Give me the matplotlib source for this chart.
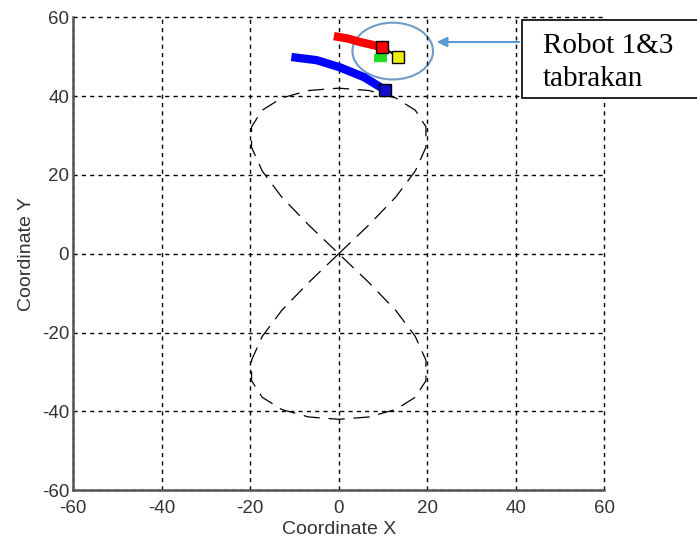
import numpy as np
import matplotlib.pyplot as plt
from matplotlib.patches import Ellipse

plt.rcParams['font.family'] = ['Liberation Sans', 'DejaVu Sans']
plt.rcParams['axes.unicode_minus'] = False

# Lintasan angka 8
path_x = [0, 6.8, 12.9, 17.3, 19.7, 19.7, 17.3, 12.9, 6.8, 0, -6.8, -12.9, -17.3, -19.7,
          -19.7, -17.3, -12.9, -6.8, 0, 6.8, 12.9, 17.3, 19.7, 19.7, 17.3, 12.9, 6.8, 0,
          -6.8, -12.9, -17.3, -19.7, -19.7, -17.3, -12.9, -6.8, 0]
path_y = [0, 7.3, 14.4, 21, 27, 32.2, 36.4, 39.5, 41.4, 42, 41.4, 39.5, 36.4, 32.2,
          27, 21, 14.4, 7.3, 0, -7.3, -14.4, -21, -27, -32.2, -36.4, -39.5, -41.4, -42,
          -41.4, -39.5, -36.4, -32.2, -27, -21, -14.4, -7.3, 0]

# Robot
red_x = [-1.1, 2, 4.8, 7.5, 9.8]
red_y = [55.2, 54.6, 53.7, 53.0, 52.4]
blue_x = [-10.7, -5, 0.2, 5.7, 10.5]
blue_y = [49.9, 49.1, 47.3, 44.8, 41.5]
green_x = [8, 10.9]
green_y = [49.6, 49.6]
yellow_x, yellow_y = 13.4, 50.0

ticks = [-60, -40, -20, 0, 20, 40, 60]

fig = plt.figure(figsize=(6.97, 5.37), dpi=100)
ax = fig.add_axes([0.105, 0.087, 0.762, 0.881])

ax.plot(path_x, path_y, color='black', lw=0.9, linestyle=(0, (13, 7)))
ax.plot(red_x, red_y, color='red', lw=6, solid_capstyle='butt')
ax.plot(blue_x, blue_y, color='blue', lw=6, solid_capstyle='butt')
ax.plot(green_x, green_y, color='#22dd22', lw=6, solid_capstyle='butt')
ax.plot([red_x[-1], yellow_x], [red_y[-1], yellow_y], color='black', lw=1.5)
ax.plot(red_x[-1], red_y[-1], 's', ms=8, mfc='red', mec='black', mew=1)
ax.plot(blue_x[-1], blue_y[-1], 's', ms=8, mfc='#1010cc', mec='black', mew=1)
ax.plot(yellow_x, yellow_y, 's', ms=8, mfc='#eeee00', mec='black', mew=1)

ax.add_patch(Ellipse((12.2, 51.4), 18.2, 14.4, fill=False, ec='#6f9cc7', lw=1.5))

ax.set_xlim(-60, 60)
ax.set_ylim(-60, 60)
ax.set_xticks(ticks)
ax.set_yticks(ticks)
ax.grid(True, color='black', linestyle=(0, (3, 3)), lw=1.0)
for gl in ax.get_xgridlines() + ax.get_ygridlines():
    gl.set_clip_on(False)
ax.tick_params(length=0, labelsize=13.5, labelcolor='#333333')
ax.tick_params(axis='x', pad=7)
ax.tick_params(axis='y', pad=3)
for s in ['top', 'right']:
    ax.spines[s].set_visible(False)
for s in ['left', 'bottom']:
    ax.spines[s].set_color('#555555')
    ax.spines[s].set_linewidth(1.8)
    ax.spines[s].set_zorder(3)
ax.set_xlabel('Coordinate X', fontsize=14, color='#333333', labelpad=3)
ax.set_ylabel('Coordinate Y', fontsize=14, color='#333333', labelpad=5)

# Kotak keterangan
box = plt.Rectangle((522 / 697, 1 - 98 / 537), 0.26, 78 / 537, transform=fig.transFigure,
                    fill=True, fc='white', ec='black', lw=1.2, clip_on=False)
fig.patches.append(box)
fig.text(543 / 697, 1 - 53 / 537, 'Robot 1&3', fontsize=21, family='Liberation Serif',
         va='baseline')
fig.text(543 / 697, 1 - 86 / 537, 'tabrakan', fontsize=21, family='Liberation Serif',
         va='baseline')
ax.annotate('', xy=(434, 537 - 42), xycoords='figure pixels',
            xytext=(522, 537 - 42), textcoords='figure pixels',
            arrowprops=dict(arrowstyle='-|>', color='#5b9bd5', lw=1.5, mutation_scale=15))

plt.savefig('out.png', dpi=100)
